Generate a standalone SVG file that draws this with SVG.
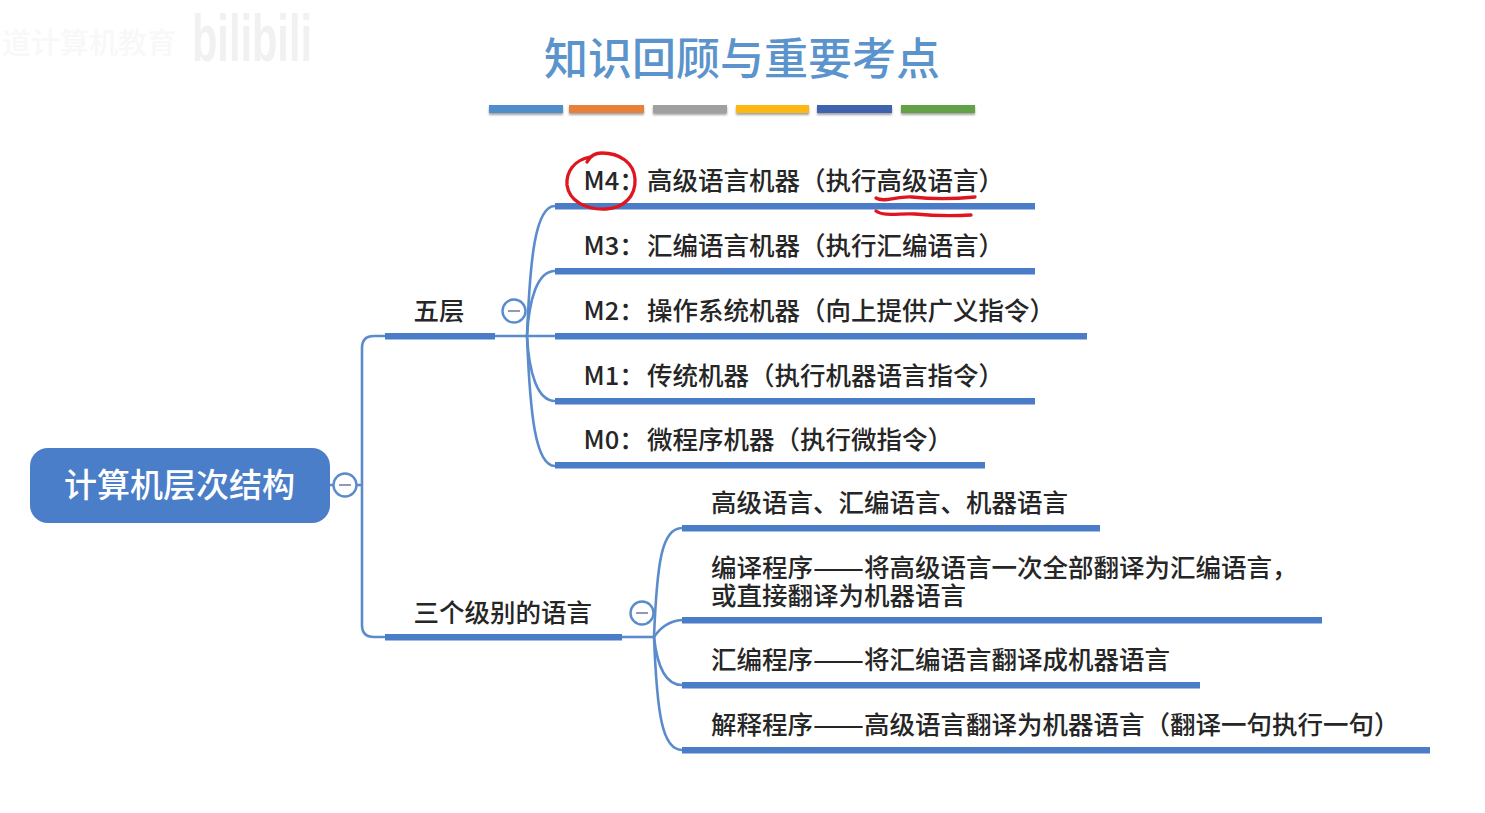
<svg xmlns="http://www.w3.org/2000/svg" width="1485" height="813" viewBox="0 0 1485 813">
<defs>
<style>
text{font-family:"Noto Sans CJK SC","Noto Sans",sans-serif;fill:#262626;font-size:25.5px;font-weight:500}
.bar{fill:#4a7cc8}
.link{fill:none;stroke:#5a8ccb;stroke-width:2.6}
.tog{fill:#fff;stroke:#5a8ccb;stroke-width:2.4}
.dash{stroke:#8f9bb5;stroke-width:2}
.pen{fill:none;stroke:#e0161f;stroke-width:3.3;stroke-linecap:round}
.sw{filter:url(#s)}
</style>
<filter id="s" x="-5%" y="-50%" width="110%" height="250%"><feDropShadow dx="0" dy="2" stdDeviation="1.2" flood-color="#666" flood-opacity=".6"/></filter>
</defs>
<rect width="1485" height="813" fill="#fff"/>
<g id="watermark">
<text x="2" y="54" style="font-size:29px;fill:#f8f8f8">道计算机教育</text>
<text x="192" y="61" style="font-size:66px;font-weight:700;fill:#f1f1f1;font-family:'Liberation Sans',sans-serif" textLength="120" lengthAdjust="spacingAndGlyphs">bilibili</text>
</g>
<g id="title">
<text x="544" y="75" style="font-size:44px;fill:#5b94cc">知识回顾与重要考点</text>
<g class="sw">
<rect x="489" y="105" width="74" height="8" fill="#4f8ecb"/>
<rect x="569" y="105" width="75" height="8" fill="#e8803a"/>
<rect x="653" y="105" width="74" height="8" fill="#a0a0a0"/>
<rect x="736" y="105" width="73" height="8" fill="#fdb813"/>
<rect x="817" y="105" width="75" height="8" fill="#3f64ad"/>
<rect x="901" y="105" width="74" height="8" fill="#62a144"/>
</g>
</g>
<g id="connectors">
<path class="link" d="M330 485H362"/>
<path class="link" d="M385 336H374Q362 336 362 348V625Q362 637 374 637H385"/>
<path class="link" d="M495 336H555"/>
<path class="link" d="M527 336C530 260 535 206 555 206"/>
<path class="link" d="M527 336C529 300 537 271 555 271"/>
<path class="link" d="M527 336C529 372 537 401 555 401"/>
<path class="link" d="M527 336C530 412 535 466 555 466"/>
<path class="link" d="M622 637H654"/>
<path class="link" d="M654 637C657 561 662 528 682 528"/>
<path class="link" d="M654 637C660 628 668 621 682 620"/>
<path class="link" d="M654 637C657 665 665 685 682 685"/>
<path class="link" d="M654 637C657 713 662 750 682 750"/>
</g>
<g id="root">
<rect x="30" y="448" width="300" height="75" rx="18" fill="#4a7ec8"/>
<text x="64" y="497" style="font-size:33px;fill:#fff">计算机层次结构</text>
<circle class="tog" cx="345" cy="485" r="11.5"/><path class="dash" d="M339 485H351"/>
</g>
<g id="n-wuceng">
<rect class="bar" x="385" y="333" width="110" height="6.5"/>
<text x="413.5" y="320">五层</text>
<circle class="tog" cx="514" cy="311" r="11.5"/><path class="dash" d="M508 311H520"/>
</g>
<g id="n-m4">
<rect class="bar" x="555" y="203" width="480" height="6.5"/>
<text x="583.5" y="190">M4：<tspan x="647">高级语言机器（执行高级语言）</tspan></text>
</g>
<g id="n-m3">
<rect class="bar" x="555" y="268" width="480" height="6.5"/>
<text x="583.5" y="255">M3：<tspan x="647">汇编语言机器（执行汇编语言）</tspan></text>
</g>
<g id="n-m2">
<rect class="bar" x="555" y="333" width="532" height="6.5"/>
<text x="583.5" y="320">M2：<tspan x="647">操作系统机器（向上提供广义指令）</tspan></text>
</g>
<g id="n-m1">
<rect class="bar" x="555" y="398" width="480" height="6.5"/>
<text x="583.5" y="385">M1：<tspan x="647">传统机器（执行机器语言指令）</tspan></text>
</g>
<g id="n-m0">
<rect class="bar" x="555" y="462" width="430" height="6.5"/>
<text x="583.5" y="449">M0：<tspan x="647">微程序机器（执行微指令）</tspan></text>
</g>
<g id="n-sange">
<rect class="bar" x="385" y="634" width="237" height="6.5"/>
<text x="413.5" y="622">三个级别的语言</text>
<circle class="tog" cx="642" cy="613" r="11.5"/><path class="dash" d="M636 613H648"/>
</g>
<g id="n-l1">
<rect class="bar" x="682" y="525" width="418" height="6.5"/>
<text x="711" y="512">高级语言、汇编语言、机器语言</text>
</g>
<g id="n-l2">
<rect class="bar" x="682" y="617" width="640" height="6.5"/>
<text x="711" y="577">编译程序<tspan x="813" textLength="51" lengthAdjust="spacingAndGlyphs">——</tspan><tspan x="864">将高级语言一次全部翻译为汇编语言，</tspan><tspan x="711" y="605">或直接翻译为机器语言</tspan></text>
</g>
<g id="n-l3">
<rect class="bar" x="682" y="682" width="518" height="6.5"/>
<text x="711" y="669">汇编程序<tspan x="813" textLength="51" lengthAdjust="spacingAndGlyphs">——</tspan><tspan x="864">将汇编语言翻译成机器语言</tspan></text>
</g>
<g id="n-l4">
<rect class="bar" x="682" y="747" width="748" height="6.5"/>
<text x="711" y="734">解释程序<tspan x="813" textLength="51" lengthAdjust="spacingAndGlyphs">——</tspan><tspan x="864">高级语言翻译为机器语言（翻译一句执行一句）</tspan></text>
</g>
<g id="ink">
<path class="pen" d="M590 157C574 160 566 172 567 185C569 201 586 210 606 209C624 208 636 196 635 179C634 163 620 153 602 153C595 153 590 156 587 162"/>
<path class="pen" d="M876 198C884 203 896 196 912 197C930 199 955 199 975 197"/>
<path class="pen" d="M876 211C884 217 900 213 915 214C935 216 955 216 971 215"/>
</g>
</svg>
